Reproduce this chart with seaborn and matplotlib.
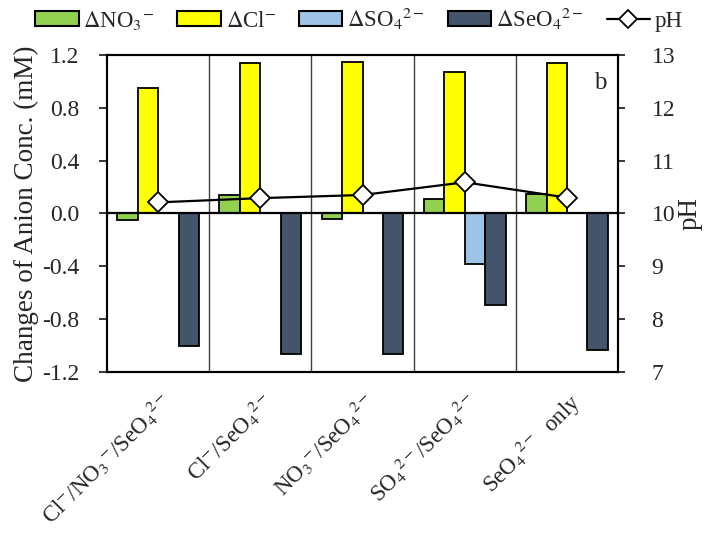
import numpy as np
import pandas as pd
import matplotlib
matplotlib.use("Agg")
import matplotlib.pyplot as plt
from matplotlib import font_manager
from matplotlib.patches import Patch
from matplotlib.lines import Line2D
import seaborn as sns

# Solution compositions (categories)
categories = [
    r"Cl$^{-}$/NO$_3{}^{-}$/SeO$_4{}^{2-}$",
    r"Cl$^{-}$/SeO$_4{}^{2-}$",
    r"NO$_3{}^{-}$/SeO$_4{}^{2-}$",
    r"SO$_4{}^{2-}$/SeO$_4{}^{2-}$",
    r"SeO$_4{}^{2-}$  only",
]

# Changes of anion concentration (mM)
d_no3 = [-0.05, 0.14, -0.04, 0.11, 0.15]
d_cl = [0.95, 1.14, 1.15, 1.07, 1.14]
d_so4 = [np.nan, np.nan, np.nan, -0.38, np.nan]
d_seo4 = [-1.00, -1.06, -1.06, -0.69, -1.03]

# Final pH
ph = [10.21, 10.29, 10.35, 10.59, 10.30]

series_labels = [
    r"$\Delta$NO$_3{}^{-}$",
    r"$\Delta$Cl$^{-}$",
    r"$\Delta$SO$_4{}^{2-}$",
    r"$\Delta$SeO$_4{}^{2-}$",
]
series_colors = ["#92D050", "#FFFF00", "#9DC3E6", "#44546A"]

df = pd.DataFrame({
    "solution": np.repeat(categories, 4),
    "anion": series_labels * len(categories),
    "change": np.ravel(np.column_stack([d_no3, d_cl, d_so4, d_seo4])),
})

sns.set_style("ticks")
installed = {f.name for f in font_manager.fontManager.ttflist}
serif = [n for n in ["Liberation Serif", "Times New Roman", "STIXGeneral", "DejaVu Serif"]
         if n in installed]
plt.rcParams["font.family"] = serif
plt.rcParams["mathtext.fontset"] = "stix"

fig = plt.figure(figsize=(7.04, 5.33), dpi=100)
ax = fig.add_axes([0.152, 0.302, 0.726, 0.595])

sns.barplot(
    data=df, x="solution", y="change", hue="anion",
    order=categories, hue_order=series_labels,
    palette=dict(zip(series_labels, series_colors)), saturation=1,
    width=0.8, edgecolor="black", linewidth=1.3,
    legend=False, ax=ax,
)

ax.set_xlim(-0.5, len(categories) - 0.5)
ax.set_ylim(-1.2, 1.2)
yt = np.arange(-1.2, 1.21, 0.4)
ax.set_yticks(yt)
ax.set_yticklabels([f"{v:.1f}" for v in yt])
ax.set_xlabel("")
ax.set_ylabel("Changes of Anion Conc. (mM)", fontsize=19.5, labelpad=2)

# group separators and zero line
for xb in np.arange(0.5, len(categories) - 0.5, 1.0):
    ax.axvline(xb, color="#404040", lw=1.0, zorder=0)
ax.axhline(0, color="black", lw=1.6, zorder=3)

for sp in ax.spines.values():
    sp.set_visible(True)
    sp.set_color("black")
    sp.set_linewidth(1.5)

ax.tick_params(axis="y", direction="out", length=6, width=1.3, labelsize=17, pad=14)
ax.tick_params(axis="x", length=0, labelsize=16.5, pad=12)
for lbl in ax.get_xticklabels():
    lbl.set_rotation(45)
    lbl.set_ha("right")
    lbl.set_va("top")
    lbl.set_rotation_mode("anchor")

# pH on the secondary axis
ax2 = ax.twinx()
sns.lineplot(
    x=np.arange(len(categories)), y=ph, ax=ax2,
    color="black", lw=1.6, marker="D", markersize=10,
    markerfacecolor="white", markeredgecolor="black", markeredgewidth=1.3,
    zorder=5,
)
ax2.set_xlim(-0.5, len(categories) - 0.5)
ax2.set_ylim(7, 13)
ax2.set_yticks(range(7, 14))
ax2.set_ylabel("pH", fontsize=19.5, labelpad=2)
ax2.tick_params(axis="y", direction="out", length=5, width=1.3, labelsize=17, pad=19)
for sp in ax2.spines.values():
    sp.set_linewidth(1.5)
    sp.set_color("black")

ax2.text(0.965, 0.91, "b", transform=ax2.transAxes, fontsize=18,
         ha="center", va="center")

handles = [Patch(facecolor=c, edgecolor="black", linewidth=1.5) for c in series_colors]
handles.append(Line2D([], [], color="black", lw=1.6, marker="D", markersize=9,
                      markerfacecolor="white", markeredgecolor="black",
                      markeredgewidth=1.3))
labels = series_labels + ["pH"]
fig.legend(handles, labels, loc="center", bbox_to_anchor=(0.51, 0.965),
           ncol=5, frameon=False, fontsize=16.5, handlelength=1.9,
           handleheight=0.6, handletextpad=0.2, columnspacing=1.0)

fig.savefig("out.png", dpi=100)
